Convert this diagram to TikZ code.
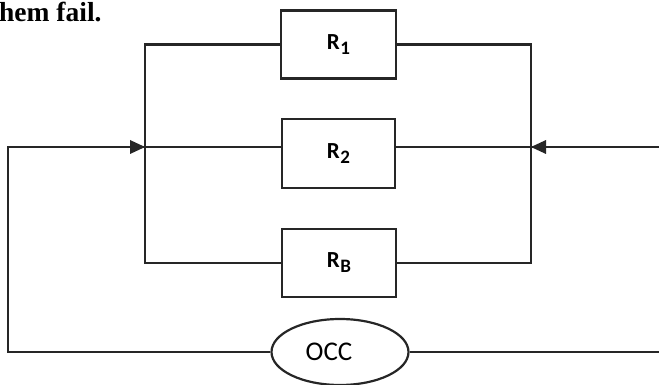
\documentclass[tikz,border=0pt]{standalone}
\usepackage{fontspec}
\setmainfont{Liberation Serif}
\newfontfamily\boxfont{Carlito}
\usetikzlibrary{arrows.meta,shapes.geometric}
\tikzset{
  wire/.style={line width=2.2pt, draw=black!85},
  rbox/.style={draw=black!85, line width=2.2pt, rectangle, minimum width=#1, minimum height=68pt, inner sep=0pt},
  rbox/.default=114pt,
  occ/.style={draw=black!85, line width=2.2pt, ellipse, minimum width=137pt, minimum height=66pt, inner sep=0pt},
}
\newcommand{\rlab}[1]{{\boxfont\bfseries\fontsize{23pt}{23pt}\selectfont R\kern0.5pt\raisebox{-5pt}{\fontsize{19pt}{19pt}\selectfont #1}}}
\begin{document}
\begin{tikzpicture}[x=1pt,y=-1pt]
\clip (0,0) rectangle (659,385);
\useasboundingbox (0,0) rectangle (659,385);
\node[anchor=base west, inner sep=0pt, font=\bfseries\fontsize{27.5pt}{27.5pt}\selectfont] (title) at (-1,22) {hem fail.};
\node[rbox=115pt] (R1) at (338.5,44.5) {\rlab{1}};
\node[rbox=113pt, minimum height=69pt] (R2) at (338.5,153.5) {\rlab{2}};
\node[rbox=114pt] (RB) at (339,263) {\rlab{B}};
\node[occ] (OCC) at (340,352) {};
\node[inner sep=0pt, font=\boxfont\fontsize{27pt}{27pt}\selectfont] (occlab) at (329,352) {OCC};
\coordinate (LT) at (145,44.5);
\coordinate (LM) at (145,147);
\coordinate (LB) at (145,263);
\coordinate (RT) at (531,44.5);
\coordinate (RM) at (531,147);
\coordinate (RBt) at (531,263);
\coordinate (OL) at (8,147);
\coordinate (OLb) at (8,352);
\coordinate (OR) at (664,147);
\coordinate (ORb) at (664,352);
\draw[wire] (R1.west) -- (LT) -- (LB) -- (RB.west);
\draw[wire] (R1.east) -- (RT) -- (RBt) -- (RB.east);
\draw[wire] (LM) -- (R2.west |- LM);
\draw[wire] (R2.east |- RM) -- (RM);
\draw[wire] (OCC.west) -- (OLb) -- (OL) -- (LM);
\draw[wire] (OCC.east) -- (ORb) -- (OR) -- (RM);
\fill[black!85] (LM) -- ++(-15,-7) -- ++(0,14) -- cycle;
\fill[black!85] (RM) -- ++(15,-7) -- ++(0,14) -- cycle;
\end{tikzpicture}
\end{document}
